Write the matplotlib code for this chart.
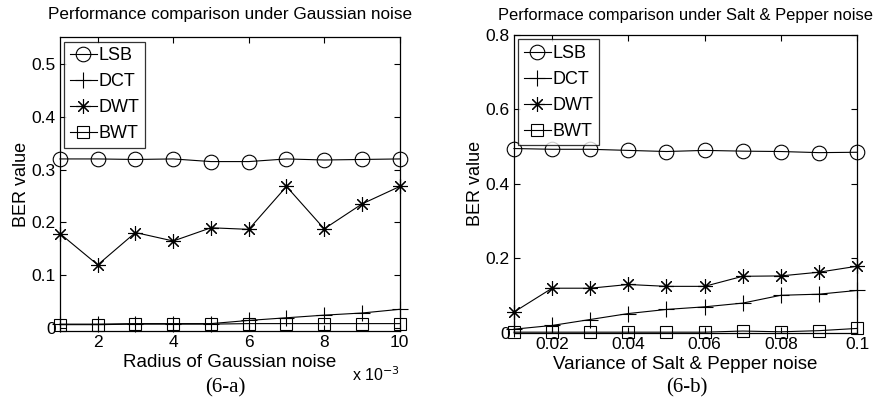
import matplotlib.pyplot as plt

plt.rcParams["font.family"] = ["Liberation Sans", "DejaVu Sans"]

# (6-a) Gaussian noise, radius x 10^-3
radius = [0.001, 0.002, 0.003, 0.004, 0.005, 0.006, 0.007, 0.008, 0.009, 0.010]
lsb_a = [0.320, 0.320, 0.319, 0.320, 0.315, 0.315, 0.320, 0.318, 0.319, 0.320]
dct_a = [0.008, 0.008, 0.009, 0.009, 0.009, 0.015, 0.020, 0.025, 0.029, 0.036]
dwt_a = [0.179, 0.120, 0.181, 0.165, 0.190, 0.187, 0.268, 0.188, 0.235, 0.268]
bwt_a = [0.007, 0.007, 0.008, 0.008, 0.008, 0.009, 0.009, 0.009, 0.009, 0.009]

# (6-b) Salt & Pepper noise
variance = [0.01, 0.02, 0.03, 0.04, 0.05, 0.06, 0.07, 0.08, 0.09, 0.10]
lsb_b = [0.495, 0.493, 0.493, 0.490, 0.487, 0.490, 0.488, 0.487, 0.484, 0.485]
dct_b = [0.010, 0.020, 0.036, 0.052, 0.063, 0.070, 0.080, 0.101, 0.104, 0.114]
dwt_b = [0.056, 0.120, 0.120, 0.130, 0.125, 0.125, 0.152, 0.153, 0.163, 0.179]
bwt_b = [0.002, 0.002, 0.002, 0.002, 0.002, 0.002, 0.005, 0.003, 0.006, 0.012]

labels = ["LSB", "DCT", "DWT", "BWT"]
markers = ["o", "+", (8, 2, 0), "s"]
msizes = [10.5, 12, 10.5, 9]

fig = plt.figure(figsize=(8.78, 4.11), dpi=100)
ax1 = fig.add_axes([0.0683, 0.1946, 0.387, 0.715])
ax2 = fig.add_axes([0.5854, 0.19, 0.3907, 0.725])


def draw(ax, x, series):
    for y, lab, m, ms in zip(series, labels, markers, msizes):
        ax.plot(x, y, color="black", lw=0.8, marker=m, ms=ms,
                mfc="none", mec="black", mew=0.8, label=lab, clip_on=False)
    ax.tick_params(direction="in", top=True, right=True, labelsize=12.5,
                   length=4, width=0.8, pad=3)
    for s in ax.spines.values():
        s.set_linewidth(0.9)
    leg = ax.legend(loc="upper left", fontsize=13, frameon=True, fancybox=False,
                    edgecolor="black", borderaxespad=0.25, handlelength=1.5,
                    handletextpad=0.1, labelspacing=0.5, borderpad=0.3)
    leg.get_frame().set_linewidth(0.9)
    ax.set_ylabel("BER value", fontsize=13, labelpad=1)


draw(ax1, radius, [lsb_a, dct_a, dwt_a, bwt_a])
ax1.set_xlim(0.001, 0.010)
ax1.set_ylim(-0.005, 0.55)
ax1.set_xticks([0.002, 0.004, 0.006, 0.008, 0.010])
ax1.set_xticklabels(["2", "4", "6", "8", "10"])
ax1.set_yticks([0, 0.1, 0.2, 0.3, 0.4, 0.5])
ax1.set_yticklabels(["0", "0.1", "0.2", "0.3", "0.4", "0.5"])
ax1.set_xlabel("Radius of Gaussian noise", fontsize=13.5, labelpad=3)
ax1.set_title("Performance comparison under Gaussian noise", fontsize=12.3, pad=13)
ax1.text(1.0, -0.115, r"x 10$^{-3}$", transform=ax1.transAxes, fontsize=11.5,
         ha="right", va="top")

draw(ax2, variance, [lsb_b, dct_b, dwt_b, bwt_b])
ax2.set_xlim(0.01, 0.10)
ax2.set_ylim(0, 0.8)
ax2.set_xticks([0.02, 0.04, 0.06, 0.08, 0.10])
ax2.set_xticklabels(["0.02", "0.04", "0.06", "0.08", "0.1"])
ax2.set_yticks([0, 0.2, 0.4, 0.6, 0.8])
ax2.set_yticklabels(["0", "0.2", "0.4", "0.6", "0.8"])
ax2.set_xlabel("Variance of Salt & Pepper noise", fontsize=13.5, labelpad=3)
ax2.set_title("Performace comparison under Salt & Pepper noise", fontsize=11.9, pad=11)

fig.text(225 / 878, 1 - 388 / 411, "(6-a)", fontsize=15,
         family="Liberation Serif", ha="center", va="center")
fig.text(687 / 878, 1 - 388 / 411, "(6-b)", fontsize=15,
         family="Liberation Serif", ha="center", va="center")

fig.savefig("out.png", dpi=100)
